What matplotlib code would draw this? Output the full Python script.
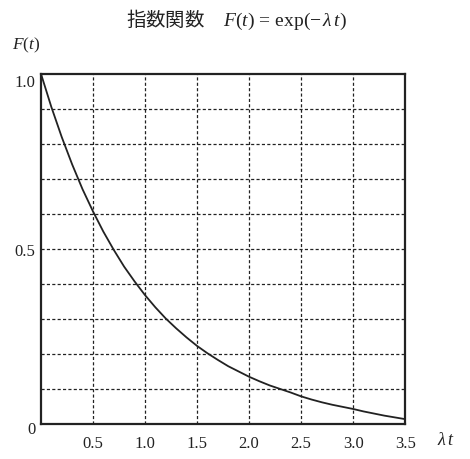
import matplotlib
matplotlib.use("Agg")
import numpy as np
import matplotlib.pyplot as plt

# values (lambda*t -> F(t))
lam_t = [0.0, 0.1, 0.2, 0.3, 0.4, 0.5, 0.6, 0.7, 0.8, 0.9,
         1.0, 1.1, 1.2, 1.3, 1.4, 1.5, 1.6, 1.7, 1.8, 1.9,
         2.0, 2.1, 2.2, 2.3, 2.4, 2.5, 2.6, 2.7, 2.8, 2.9,
         3.0, 3.1, 3.2, 3.3, 3.4, 3.5]
F_vals = [1.000, 0.905, 0.819, 0.741, 0.670, 0.607, 0.549, 0.497, 0.449, 0.407,
          0.368, 0.333, 0.301, 0.273, 0.247, 0.223, 0.202, 0.183, 0.165, 0.150,
          0.135, 0.122, 0.110, 0.100, 0.090, 0.079, 0.070, 0.062, 0.055, 0.049,
          0.043, 0.036, 0.030, 0.024, 0.019, 0.014]

x_ticks = [0.5, 1.0, 1.5, 2.0, 2.5, 3.0, 3.5]
x_labels = ["0.5", "1.0", "1.5", "2.0", "2.5", "3.0", "3.5"]
y_ticks = [0.5, 1.0]
y_labels = ["0.5", "1.0"]

plt.rcParams["font.family"] = ["Liberation Serif", "Noto Sans CJK JP", "DejaVu Sans"]
plt.rcParams["mathtext.fontset"] = "custom"
plt.rcParams["mathtext.rm"] = "Liberation Serif"
plt.rcParams["mathtext.it"] = "Liberation Serif:italic"

ink = "#222222"

fig = plt.figure(figsize=(4.7, 4.6), dpi=100)
ax = fig.add_axes([0.087, 0.076, 0.775, 0.762])

ax.plot(lam_t, F_vals, color=ink, linewidth=1.3, zorder=3)

# dashed grid
for gx in np.arange(0.5, 3.5, 0.5):
    ax.axvline(gx, color=ink, linestyle=(0, (2.5, 1.8)), linewidth=0.9)
for gy in np.arange(0.1, 1.0, 0.1):
    ax.axhline(gy, color=ink, linestyle=(0, (2.5, 1.8)), linewidth=0.9)

ax.set_xlim(0, 3.5)
ax.set_ylim(0, 1.0)

ax.set_xticks(x_ticks)
ax.set_xticklabels(x_labels)
ax.set_yticks(y_ticks)
ax.set_yticklabels(y_labels)
ax.tick_params(length=0, labelsize=12, colors=ink)
ax.tick_params(axis="x", pad=8)
ax.tick_params(axis="y", pad=4)
ax.get_yticklabels()[1].set_va("top")

for s in ax.spines.values():
    s.set_linewidth(1.6)
    s.set_color(ink)

fig.text(31 / 470, 1 - 430 / 460, "0", fontsize=12, color=ink,
         ha="center", va="center")
fig.text(446 / 470, 1 - 441 / 460, r"$\lambda\, t$", fontsize=13, color=ink,
         ha="center", va="center")
fig.text(26 / 470, 1 - 45 / 460, r"$F(t)$", fontsize=12.5, color=ink,
         ha="center", va="center")
fig.text(236 / 470, 1 - 20 / 460,
         "指数関数　" + r"$F(t)\,=\,\mathrm{exp}(-\,\lambda\, t)$",
         fontsize=14, color=ink, ha="center", va="center",
         family=["Noto Sans CJK JP", "Liberation Serif"])

fig.savefig("out.png", dpi=100, facecolor="white")
